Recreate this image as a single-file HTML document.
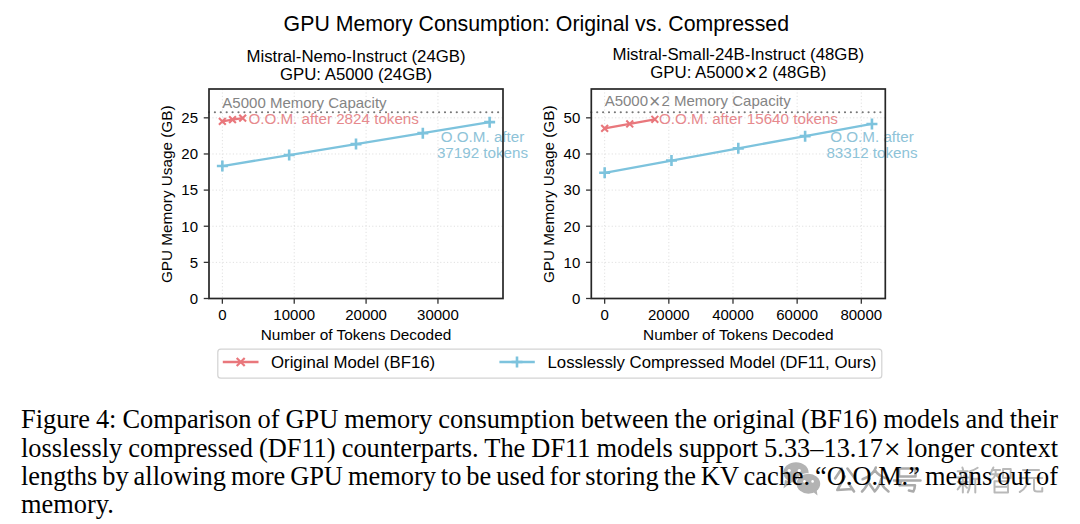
<!DOCTYPE html>
<html><head><meta charset="utf-8"><style>
html,body{margin:0;padding:0;background:#fff;width:1080px;height:524px;overflow:hidden;position:relative}
svg{position:absolute;left:0;top:0}
svg text{font-family:"Liberation Sans",sans-serif;fill-opacity:1}
.cap{position:absolute;left:21px;width:1037px;font-family:"Liberation Serif",serif;font-size:26.4px;color:#000;white-space:nowrap;text-align:justify;text-align-last:justify;line-height:28px;height:28px;word-spacing:-2.5px}
</style></head><body>
<svg width="1080" height="524" viewBox="0 0 1080 524">
<text x="536.3" y="30.8" font-size="21.3" text-anchor="middle">GPU Memory Consumption: Original vs. Compressed</text>
<line x1="222.36" y1="89.0" x2="222.36" y2="298.5" stroke="#e0e0e0" stroke-width="1" stroke-dasharray="1.2 2.2"/>
<line x1="294.23" y1="89.0" x2="294.23" y2="298.5" stroke="#e0e0e0" stroke-width="1" stroke-dasharray="1.2 2.2"/>
<line x1="366.09" y1="89.0" x2="366.09" y2="298.5" stroke="#e0e0e0" stroke-width="1" stroke-dasharray="1.2 2.2"/>
<line x1="437.95" y1="89.0" x2="437.95" y2="298.5" stroke="#e0e0e0" stroke-width="1" stroke-dasharray="1.2 2.2"/>
<line x1="209.0" y1="298.50" x2="503.0" y2="298.50" stroke="#e0e0e0" stroke-width="1" stroke-dasharray="1.2 2.2"/>
<line x1="209.0" y1="262.37" x2="503.0" y2="262.37" stroke="#e0e0e0" stroke-width="1" stroke-dasharray="1.2 2.2"/>
<line x1="209.0" y1="226.23" x2="503.0" y2="226.23" stroke="#e0e0e0" stroke-width="1" stroke-dasharray="1.2 2.2"/>
<line x1="209.0" y1="190.10" x2="503.0" y2="190.10" stroke="#e0e0e0" stroke-width="1" stroke-dasharray="1.2 2.2"/>
<line x1="209.0" y1="153.97" x2="503.0" y2="153.97" stroke="#e0e0e0" stroke-width="1" stroke-dasharray="1.2 2.2"/>
<line x1="209.0" y1="117.83" x2="503.0" y2="117.83" stroke="#e0e0e0" stroke-width="1" stroke-dasharray="1.2 2.2"/>
<line x1="209.0" y1="112.27" x2="503.0" y2="112.27" stroke="#777" stroke-width="2.2" stroke-dasharray="0 5.9" stroke-linecap="round"/>
<text x="222.36" y="108.20" font-size="15.0" fill="#848484">A5000 Memory Capacity</text>
<polyline points="222.36,166.04 289.18,155.07 356.00,144.10 422.82,133.14 489.64,122.17" fill="none" stroke="#7DC3DD" stroke-width="2.3"/>
<path d="M216.86,166.04H227.86M222.36,160.54V171.54" stroke="#7DC3DD" stroke-width="2.6"/>
<path d="M283.68,155.07H294.68M289.18,149.57V160.57" stroke="#7DC3DD" stroke-width="2.6"/>
<path d="M350.50,144.10H361.50M356.00,138.60V149.60" stroke="#7DC3DD" stroke-width="2.6"/>
<path d="M417.32,133.14H428.32M422.82,127.64V138.64" stroke="#7DC3DD" stroke-width="2.6"/>
<path d="M484.14,122.17H495.14M489.64,116.67V127.67" stroke="#7DC3DD" stroke-width="2.6"/>
<polyline points="222.36,121.45 232.51,119.64 242.66,118.12" fill="none" stroke="#E9777C" stroke-width="2.3"/>
<path d="M218.96,118.05L225.76,124.85M218.96,124.85L225.76,118.05" stroke="#E9777C" stroke-width="2.1"/>
<path d="M229.11,116.24L235.91,123.04M229.11,123.04L235.91,116.24" stroke="#E9777C" stroke-width="2.1"/>
<path d="M239.26,114.72L246.06,121.52M239.26,121.52L246.06,114.72" stroke="#E9777C" stroke-width="2.1"/>
<text x="248.40" y="124.30" font-size="15.2" fill="#E6898D">O.O.M. after 2824 tokens</text>
<text x="482.50" y="141.80" font-size="15.2" fill="#8EC3D8" text-anchor="middle">O.O.M. after</text>
<text x="482.50" y="157.80" font-size="15.2" fill="#8EC3D8" text-anchor="middle">37192 tokens</text>
<rect x="209.0" y="89.0" width="294.0" height="209.5" fill="none" stroke="#262626" stroke-width="1.7"/>
<line x1="222.36" y1="298.5" x2="222.36" y2="303.75" stroke="#333" stroke-width="1.3"/>
<text x="222.36" y="320.3" font-size="15" text-anchor="middle">0</text>
<line x1="294.23" y1="298.5" x2="294.23" y2="303.75" stroke="#333" stroke-width="1.3"/>
<text x="294.23" y="320.3" font-size="15" text-anchor="middle">10000</text>
<line x1="366.09" y1="298.5" x2="366.09" y2="303.75" stroke="#333" stroke-width="1.3"/>
<text x="366.09" y="320.3" font-size="15" text-anchor="middle">20000</text>
<line x1="437.95" y1="298.5" x2="437.95" y2="303.75" stroke="#333" stroke-width="1.3"/>
<text x="437.95" y="320.3" font-size="15" text-anchor="middle">30000</text>
<line x1="203.75" y1="298.50" x2="209.0" y2="298.50" stroke="#333" stroke-width="1.3"/>
<text x="198.0" y="303.80" font-size="15" text-anchor="end">0</text>
<line x1="203.75" y1="262.37" x2="209.0" y2="262.37" stroke="#333" stroke-width="1.3"/>
<text x="198.0" y="267.67" font-size="15" text-anchor="end">5</text>
<line x1="203.75" y1="226.23" x2="209.0" y2="226.23" stroke="#333" stroke-width="1.3"/>
<text x="198.0" y="231.53" font-size="15" text-anchor="end">10</text>
<line x1="203.75" y1="190.10" x2="209.0" y2="190.10" stroke="#333" stroke-width="1.3"/>
<text x="198.0" y="195.40" font-size="15" text-anchor="end">15</text>
<line x1="203.75" y1="153.97" x2="209.0" y2="153.97" stroke="#333" stroke-width="1.3"/>
<text x="198.0" y="159.27" font-size="15" text-anchor="end">20</text>
<line x1="203.75" y1="117.83" x2="209.0" y2="117.83" stroke="#333" stroke-width="1.3"/>
<text x="198.0" y="123.13" font-size="15" text-anchor="end">25</text>
<text x="356.00" y="339.9" font-size="15.4" text-anchor="middle">Number of Tokens Decoded</text>
<text transform="translate(172.00,194.25) rotate(-90)" font-size="15.3" text-anchor="middle">GPU Memory Usage (GB)</text>
<text x="356.00" y="62.10" font-size="16.8" text-anchor="middle">Mistral-Nemo-Instruct (24GB)</text>
<text x="356.00" y="80.00" font-size="16.8" text-anchor="middle">GPU: A5000 (24GB)</text>
<line x1="604.66" y1="89.0" x2="604.66" y2="298.5" stroke="#e0e0e0" stroke-width="1" stroke-dasharray="1.2 2.2"/>
<line x1="668.83" y1="89.0" x2="668.83" y2="298.5" stroke="#e0e0e0" stroke-width="1" stroke-dasharray="1.2 2.2"/>
<line x1="732.99" y1="89.0" x2="732.99" y2="298.5" stroke="#e0e0e0" stroke-width="1" stroke-dasharray="1.2 2.2"/>
<line x1="797.15" y1="89.0" x2="797.15" y2="298.5" stroke="#e0e0e0" stroke-width="1" stroke-dasharray="1.2 2.2"/>
<line x1="861.31" y1="89.0" x2="861.31" y2="298.5" stroke="#e0e0e0" stroke-width="1" stroke-dasharray="1.2 2.2"/>
<line x1="591.3" y1="298.50" x2="885.3" y2="298.50" stroke="#e0e0e0" stroke-width="1" stroke-dasharray="1.2 2.2"/>
<line x1="591.3" y1="262.37" x2="885.3" y2="262.37" stroke="#e0e0e0" stroke-width="1" stroke-dasharray="1.2 2.2"/>
<line x1="591.3" y1="226.23" x2="885.3" y2="226.23" stroke="#e0e0e0" stroke-width="1" stroke-dasharray="1.2 2.2"/>
<line x1="591.3" y1="190.10" x2="885.3" y2="190.10" stroke="#e0e0e0" stroke-width="1" stroke-dasharray="1.2 2.2"/>
<line x1="591.3" y1="153.97" x2="885.3" y2="153.97" stroke="#e0e0e0" stroke-width="1" stroke-dasharray="1.2 2.2"/>
<line x1="591.3" y1="117.83" x2="885.3" y2="117.83" stroke="#e0e0e0" stroke-width="1" stroke-dasharray="1.2 2.2"/>
<line x1="591.3" y1="112.27" x2="885.3" y2="112.27" stroke="#777" stroke-width="2.2" stroke-dasharray="0 5.9" stroke-linecap="round"/>
<text x="604.66" y="106.00" font-size="15.0" fill="#848484">A5000<tspan font-size="19.5" dx="1.0" dy="1.6">×</tspan><tspan dx="1.0" dy="-1.6">2</tspan> Memory Capacity</text>
<polyline points="604.66,172.76 671.48,160.56 738.30,148.37 805.12,136.17 871.94,123.98" fill="none" stroke="#7DC3DD" stroke-width="2.3"/>
<path d="M599.16,172.76H610.16M604.66,167.26V178.26" stroke="#7DC3DD" stroke-width="2.6"/>
<path d="M665.98,160.56H676.98M671.48,155.06V166.06" stroke="#7DC3DD" stroke-width="2.6"/>
<path d="M732.80,148.37H743.80M738.30,142.87V153.87" stroke="#7DC3DD" stroke-width="2.6"/>
<path d="M799.62,136.17H810.62M805.12,130.67V141.67" stroke="#7DC3DD" stroke-width="2.6"/>
<path d="M866.44,123.98H877.44M871.94,118.48V129.48" stroke="#7DC3DD" stroke-width="2.6"/>
<polyline points="604.66,128.31 629.75,123.98 654.84,119.28" fill="none" stroke="#E9777C" stroke-width="2.3"/>
<path d="M601.26,124.91L608.06,131.71M601.26,131.71L608.06,124.91" stroke="#E9777C" stroke-width="2.1"/>
<path d="M626.35,120.58L633.15,127.38M626.35,127.38L633.15,120.58" stroke="#E9777C" stroke-width="2.1"/>
<path d="M651.44,115.88L658.24,122.68M651.44,122.68L658.24,115.88" stroke="#E9777C" stroke-width="2.1"/>
<text x="659.00" y="124.30" font-size="15.2" fill="#E6898D">O.O.M. after 15640 tokens</text>
<text x="872.00" y="141.80" font-size="15.2" fill="#8EC3D8" text-anchor="middle">O.O.M. after</text>
<text x="872.00" y="157.80" font-size="15.2" fill="#8EC3D8" text-anchor="middle">83312 tokens</text>
<rect x="591.3" y="89.0" width="294.0" height="209.5" fill="none" stroke="#262626" stroke-width="1.7"/>
<line x1="604.66" y1="298.5" x2="604.66" y2="303.75" stroke="#333" stroke-width="1.3"/>
<text x="604.66" y="320.3" font-size="15" text-anchor="middle">0</text>
<line x1="668.83" y1="298.5" x2="668.83" y2="303.75" stroke="#333" stroke-width="1.3"/>
<text x="668.83" y="320.3" font-size="15" text-anchor="middle">20000</text>
<line x1="732.99" y1="298.5" x2="732.99" y2="303.75" stroke="#333" stroke-width="1.3"/>
<text x="732.99" y="320.3" font-size="15" text-anchor="middle">40000</text>
<line x1="797.15" y1="298.5" x2="797.15" y2="303.75" stroke="#333" stroke-width="1.3"/>
<text x="797.15" y="320.3" font-size="15" text-anchor="middle">60000</text>
<line x1="861.31" y1="298.5" x2="861.31" y2="303.75" stroke="#333" stroke-width="1.3"/>
<text x="861.31" y="320.3" font-size="15" text-anchor="middle">80000</text>
<line x1="586.05" y1="298.50" x2="591.3" y2="298.50" stroke="#333" stroke-width="1.3"/>
<text x="580.3" y="303.80" font-size="15" text-anchor="end">0</text>
<line x1="586.05" y1="262.37" x2="591.3" y2="262.37" stroke="#333" stroke-width="1.3"/>
<text x="580.3" y="267.67" font-size="15" text-anchor="end">10</text>
<line x1="586.05" y1="226.23" x2="591.3" y2="226.23" stroke="#333" stroke-width="1.3"/>
<text x="580.3" y="231.53" font-size="15" text-anchor="end">20</text>
<line x1="586.05" y1="190.10" x2="591.3" y2="190.10" stroke="#333" stroke-width="1.3"/>
<text x="580.3" y="195.40" font-size="15" text-anchor="end">30</text>
<line x1="586.05" y1="153.97" x2="591.3" y2="153.97" stroke="#333" stroke-width="1.3"/>
<text x="580.3" y="159.27" font-size="15" text-anchor="end">40</text>
<line x1="586.05" y1="117.83" x2="591.3" y2="117.83" stroke="#333" stroke-width="1.3"/>
<text x="580.3" y="123.13" font-size="15" text-anchor="end">50</text>
<text x="738.30" y="339.9" font-size="15.4" text-anchor="middle">Number of Tokens Decoded</text>
<text transform="translate(554.30,194.25) rotate(-90)" font-size="15.3" text-anchor="middle">GPU Memory Usage (GB)</text>
<text x="738.30" y="60.12" font-size="16.8" text-anchor="middle">Mistral-Small-24B-Instruct (48GB)</text>
<text x="738.30" y="78.24" font-size="16.8" text-anchor="middle">GPU: A5000<tspan font-size="21.5" dx="1.0" dy="1.7">×</tspan><tspan dx="1.0" dy="-1.7">2</tspan> (48GB)</text>

<rect x="217.8" y="349.2" width="664" height="29" rx="3" ry="3" fill="#fff" stroke="#d3d3d3" stroke-width="1.2"/>
<line x1="222.8" y1="362" x2="258.5" y2="362" stroke="#E9777C" stroke-width="2.3"/>
<path d="M236.7,358L244.7,366M236.7,366L244.7,358" stroke="#E9777C" stroke-width="2.2"/>
<text x="271" y="367.7" font-size="16.8">Original Model (BF16)</text>
<line x1="499.4" y1="362" x2="534.8" y2="362" stroke="#7DC3DD" stroke-width="2.3"/>
<path d="M511.5,362H522.5M517,356.5V367.5" stroke="#7DC3DD" stroke-width="2.6"/>
<text x="547.5" y="367.7" font-size="16.8">Losslessly Compressed Model (DF11, Ours)</text>

</svg>
<svg width="1080" height="524" style="position:absolute;left:0;top:0"><ellipse cx="796" cy="472.5" rx="12.6" ry="10.2" fill="#b3b3b3"/>
<path d="M785,480 L783.5,488.5 L792,482 Z" fill="#b3b3b3"/>
<circle cx="789.2" cy="470.6" r="1.6" fill="#fff"/><circle cx="799.3" cy="470.6" r="1.6" fill="#fff"/>
<ellipse cx="808.4" cy="483.8" rx="12.8" ry="10.9" fill="#fff"/>
<ellipse cx="808.4" cy="483.8" rx="11.8" ry="10" fill="#b3b3b3"/>
<path d="M812,491 L817.5,495.5 L816.5,489 Z" fill="#b3b3b3"/>
<circle cx="804.5" cy="481.4" r="1.3" fill="#fff"/><circle cx="812.6" cy="481.4" r="1.3" fill="#fff"/>
<g transform="translate(833.8,467.5) scale(0.2200,0.2500)"><path d="M36,4 L6,44 M62,4 L96,44 M50,36 L16,90 L84,86 M66,62 L92,96" fill="none" stroke="#ababab" stroke-width="2.6" stroke-linecap="round" stroke-linejoin="round" vector-effect="non-scaling-stroke"/></g>
<g transform="translate(861.5,467.0) scale(0.2750,0.2550)"><path d="M52,2 Q44,30 4,48 M50,14 Q62,36 96,46 M28,46 Q22,75 2,96 M27,64 L46,92 M72,46 Q66,75 48,96 M71,62 Q80,82 98,96" fill="none" stroke="#ababab" stroke-width="2.6" stroke-linecap="round" stroke-linejoin="round" vector-effect="non-scaling-stroke"/></g>
<g transform="translate(893.5,467.5) scale(0.2750,0.2500)"><path d="M20,4 H80 V36 H20 Z M2,52 H98 M28,52 L22,72 M22,71 H78 Q77,88 72,96 L56,92" fill="none" stroke="#ababab" stroke-width="2.6" stroke-linecap="round" stroke-linejoin="round" vector-effect="non-scaling-stroke"/></g>
<g transform="translate(956.5,467.0) scale(0.2350,0.2600)"><path d="M25,2 L28,10 M5,16 H48 M15,22 L20,34 M38,22 L32,34 M3,40 H50 M5,58 H48 M27,40 V98 M27,60 L5,86 M27,62 L45,80 M90,3 Q75,12 58,16 M58,16 V60 Q56,85 48,98 M58,45 H98 M80,45 V98" fill="none" stroke="#b9b9b9" stroke-width="2.0" stroke-linecap="round" stroke-linejoin="round" vector-effect="non-scaling-stroke"/></g>
<g transform="translate(990.0,467.0) scale(0.2250,0.2600)"><path d="M15,2 L5,20 M8,12 H45 M2,28 H48 M25,12 V28 Q20,42 5,50 M28,32 L45,46 M58,8 H92 V42 H58 Z M20,55 H80 V98 H20 Z M20,76 H80" fill="none" stroke="#b9b9b9" stroke-width="2.0" stroke-linecap="round" stroke-linejoin="round" vector-effect="non-scaling-stroke"/></g>
<g transform="translate(1018.5,468.0) scale(0.2500,0.2500)"><path d="M18,8 H82 M5,40 H95 M38,40 Q36,80 5,96 M62,40 V84 Q62,94 75,94 H95 V80" fill="none" stroke="#b9b9b9" stroke-width="2.0" stroke-linecap="round" stroke-linejoin="round" vector-effect="non-scaling-stroke"/></g></svg>
<div class="cap" style="top:404.8px">Figure 4: Comparison of GPU memory consumption between the original (BF16) models and their</div>
<div class="cap" style="top:433.6px">losslessly compressed (DF11) counterparts. The DF11 models support 5.33–13.17<span style="font-size:30px;line-height:0;position:relative;top:2.2px;margin-left:1px">×</span> longer context</div>
<div class="cap" style="top:461.8px">lengths by allowing more GPU memory to be used for storing the KV cache. “O.O.M.” means out of</div>
<div class="cap" style="top:489.6px;text-align-last:left">memory.</div>
</body></html>
